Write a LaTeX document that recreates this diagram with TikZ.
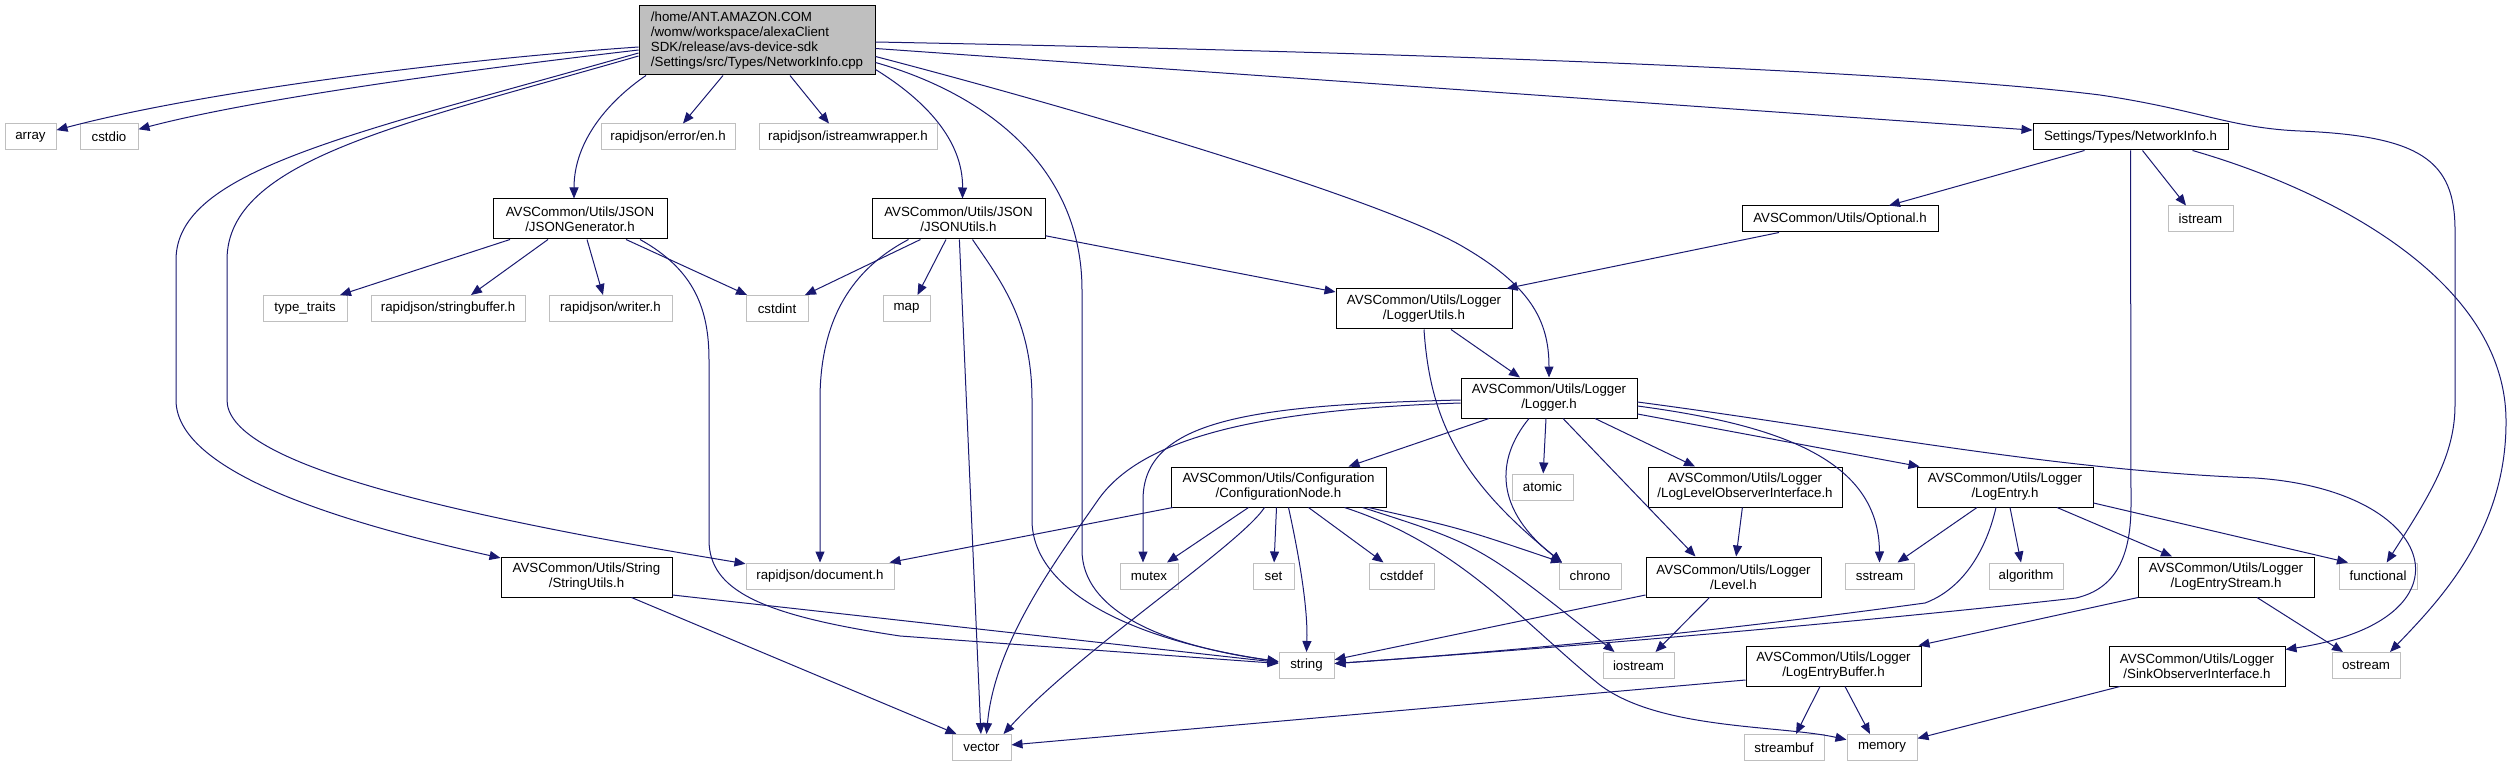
\documentclass[tikz,border=0pt]{standalone}
\usepackage{fontspec}
\setmainfont{Liberation Sans}
\usetikzlibrary{arrows.meta}
\definecolor{edgeblue}{HTML}{191970}
\definecolor{grey75}{HTML}{BFBFBF}
\tikzset{
 box/.style={rectangle, inner sep=0pt, align=center, font=\fontsize{13.3}{15}\selectfont, line width=1pt, fill=white},
 hdr/.style={box, draw=black, minimum height=40pt},
 hdrone/.style={box, draw=black, minimum height=26pt},
 ext/.style={box, draw=grey75, minimum height=26pt},
 mainbox/.style={box, draw=black, fill=grey75, align=left, minimum height=69pt},
 dep/.style={draw=edgeblue, line width=1pt, -{Triangle[length=11pt,width=9pt]}}
}
\begin{document}
\begin{tikzpicture}[x=1pt,y=-1pt]
\path[use as bounding box] (0,0) rectangle (2512,767);
% rank 0
\node[mainbox, minimum width=236pt] (main) at (757,40.5) {/home/ANT.AMAZON.COM\\/womw/workspace/alexaClient\\SDK/release/avs-device-sdk\\/Settings/src/Types/NetworkInfo.cpp};
% rank 1
\node[ext, minimum width=51pt] (array) at (30.5,137) {array};
\node[ext, minimum width=58pt] (cstdio) at (109,137) {cstdio};
\node[ext, minimum width=134pt] (enh) at (668,137) {rapidjson/error/en.h};
\node[ext, minimum width=178pt] (isw) at (848,137) {rapidjson/istreamwrapper.h};
\node[hdrone, minimum width=195pt] (nih) at (2130.5,137) {Settings/Types/NetworkInfo.h};
% rank 2
\node[hdr, minimum width=174pt] (jgen) at (580,219) {AVSCommon/Utils/JSON\\/JSONGenerator.h};
\node[hdr, minimum width=173pt] (jutil) at (958.5,219) {AVSCommon/Utils/JSON\\/JSONUtils.h};
\node[hdrone, minimum width=196pt] (opt) at (1840,219) {AVSCommon/Utils/Optional.h};
\node[ext, minimum width=65pt] (istream) at (2200.5,219) {istream};
% rank 3
\node[ext, minimum width=84pt] (tt) at (305,308.5) {type\_traits};
\node[ext, minimum width=154pt] (sbuf) at (448,308.5) {rapidjson/stringbuffer.h};
\node[ext, minimum width=123pt] (writer) at (610.5,308.5) {rapidjson/writer.h};
\node[ext, minimum width=62pt] (cstdint) at (777,308.5) {cstdint};
\node[ext, minimum width=47pt] (map) at (906.5,308.5) {map};
\node[hdr, minimum width=176pt] (lutil) at (1424,309) {AVSCommon/Utils/Logger\\/LoggerUtils.h};
% rank 4
\node[hdr, minimum width=176pt] (logger) at (1549,398) {AVSCommon/Utils/Logger\\/Logger.h};
% rank 5
\node[hdr, minimum width=215pt] (cfg) at (1278.5,487) {AVSCommon/Utils/Configuration\\/ConfigurationNode.h};
\node[ext, minimum width=61pt] (atomic) at (1542.5,487) {atomic};
\node[hdr, minimum width=194pt] (llo) at (1745,487) {AVSCommon/Utils/Logger\\/LogLevelObserverInterface.h};
\node[hdr, minimum width=176pt] (lentry) at (2005,487) {AVSCommon/Utils/Logger\\/LogEntry.h};
% rank 6
\node[hdr, minimum width=171pt] (sutil) at (586.5,577) {AVSCommon/Utils/String\\/StringUtils.h};
\node[ext, minimum width=148pt] (doc) at (820,576) {rapidjson/document.h};
\node[ext, minimum width=58pt] (mutex) at (1149,576) {mutex};
\node[ext, minimum width=41pt] (set) at (1273.5,576) {set};
\node[ext, minimum width=65pt] (cstddef) at (1401.5,576) {cstddef};
\node[ext, minimum width=62pt] (chrono) at (1590,576) {chrono};
\node[hdr, minimum width=175pt] (level) at (1733.5,577) {AVSCommon/Utils/Logger\\/Level.h};
\node[ext, minimum width=69pt] (sstream) at (1879.5,576) {sstream};
\node[ext, minimum width=74pt] (algo) at (2026,576) {algorithm};
\node[hdr, minimum width=176pt] (lestream) at (2226,577) {AVSCommon/Utils/Logger\\/LogEntryStream.h};
\node[ext, minimum width=78pt] (functional) at (2378,576) {functional};
% rank 7
\node[ext, minimum width=55pt] (string) at (1306.5,665.5) {string};
\node[ext, minimum width=71pt] (iostream) at (1638.5,665.5) {iostream};
\node[hdr, minimum width=175pt] (lebuf) at (1833.5,666) {AVSCommon/Utils/Logger\\/LogEntryBuffer.h};
\node[hdr, minimum width=176pt] (sink) at (2197,666) {AVSCommon/Utils/Logger\\/SinkObserverInterface.h};
\node[ext, minimum width=68pt] (ostream) at (2366,665.5) {ostream};
% rank 8
\node[ext, minimum width=59pt] (vector) at (981.5,747.5) {vector};
\node[ext, minimum width=80pt] (streambuf) at (1784,747.5) {streambuf};
\node[ext, minimum width=70pt] (memory) at (1882,747.5) {memory};

% ---- edges from main
\draw[dep] ([yshift=-6.5pt]main.west) .. controls (450,60) and (200,92) .. (array);
\draw[dep] ([yshift=-9.5pt]main.west) .. controls (450,72) and (250,100) .. (cstdio);
\draw[dep] ([yshift=-12.5pt]main.west) .. controls (350,135) and (176,170) .. (176,260) -- (176,400) .. controls (176,470) and (330,520) .. (sutil);
\draw[dep] ([yshift=-15.5pt]main.west) .. controls (400,125) and (227,160) .. (227,260) -- (227,400) .. controls (227,460) and (420,510) .. (doc);
\draw[dep] ([xshift=-111pt]main.south) .. controls (610,100) and (574,140) .. ([xshift=-6pt]jgen.north);
\draw[dep] ([xshift=-34pt]main.south) -- ([xshift=15pt]enh.north);
\draw[dep] ([xshift=33pt]main.south) -- ([xshift=-19pt]isw.north);
\draw[dep] ([yshift=-29pt]main.east) .. controls (925,100) and (963,140) .. ([xshift=4pt]jutil.north);
\draw[dep] ([yshift=-22pt]main.east) .. controls (990,95) and (1082,170) .. (1082,290) -- (1082,550) .. controls (1082,610) and (1160,645) .. (string);
\draw[dep] ([yshift=-16pt]main.east) .. controls (1100,115) and (1380,200) .. (1460,245) .. controls (1530,285) and (1549,320) .. (logger.north);
\draw[dep] ([yshift=-8pt]main.east) -- (nih);
\draw[dep] ([yshift=-1.5pt]main.east) .. controls (1400,52) and (1900,70) .. (2100,95) .. controls (2200,110) and (2230,128) .. (2300,131) .. controls (2420,136) and (2455,160) .. (2455,230) -- (2455,405) .. controls (2455,455) and (2430,495) .. (functional);
% ---- NetworkInfo.h
\draw[dep] ([xshift=-46pt]nih.south) -- ([xshift=49pt]opt.north);
\draw[dep] ([xshift=12pt]nih.south) -- ([xshift=-14.5pt]istream.north);
\draw[dep] (nih) -- (2131,505) .. controls (2131,565) and (2110,590) .. (2076,598) .. controls (1900,618) and (1600,645) .. (string);
\draw[dep] ([xshift=62pt]nih.south) .. controls (2330,190) and (2505,280) .. (2506,420) .. controls (2507,530) and (2440,600) .. ([xshift=24pt]ostream.north);
% ---- Optional.h
\draw[dep] ([xshift=-61pt]opt.south) -- ([xshift=-6pt]lutil.north east);
% ---- JSONGenerator.h
\draw[dep] ([xshift=-70pt]jgen.south) -- ([xshift=35pt]tt.north);
\draw[dep] ([xshift=-32pt]jgen.south) -- ([xshift=23pt]sbuf.north);
\draw[dep] ([xshift=7pt]jgen.south) -- ([xshift=-7.5pt]writer.north);
\draw[dep] ([xshift=46pt]jgen.south) -- ([xshift=-30pt]cstdint.north);
\draw[dep] ([xshift=60pt]jgen.south) .. controls (695,270) and (709,310) .. (709,360) -- (709,540) .. controls (709,590) and (760,615) .. (900,636) -- (string);
% ---- JSONUtils.h
\draw[dep] ([xshift=-38pt]jutil.south) -- ([xshift=28pt]cstdint.north);
\draw[dep] ([xshift=-12.5pt]jutil.south) -- ([xshift=11pt]map.north);
\draw[dep] (jutil) -- (vector);
\draw[dep] ([xshift=14pt]jutil.south) .. controls (1000,280) and (1032,320) .. (1032,400) -- (1032,520) .. controls (1032,590) and (1130,640) .. (string);
\draw[dep] ([xshift=-50pt]jutil.south) .. controls (860,265) and (820,310) .. (820,400) -- (doc.north);
\draw[dep] (jutil) -- (lutil);
% ---- LoggerUtils.h
\draw[dep] ([xshift=27pt]lutil.south) -- ([xshift=-29pt]logger.north);
\draw[dep] (lutil.south) .. controls (1430,420) and (1460,480) .. ([xshift=-28pt]chrono.north);
% ---- Logger.h
\draw[dep] ([xshift=-60pt]logger.south) -- ([xshift=70pt]cfg.north);
\draw[dep] ([xshift=-3pt]logger.south) -- (atomic);
\draw[dep] ([xshift=14pt]logger.south) -- ([xshift=-38pt]level.north);
\draw[dep] ([xshift=46pt]logger.south) -- ([xshift=-50pt]llo.north);
\draw[dep] ([xshift=-20pt]logger.south) .. controls (1495,460) and (1495,510) .. ([xshift=-28pt]chrono.north);
\draw[dep] ([yshift=-2pt]logger.west) .. controls (1250,405) and (1143,420) .. (1143,500) -- ([xshift=-6pt]mutex.north);
\draw[dep] ([yshift=-5pt]logger.west) .. controls (1250,410) and (1140,440) .. (1098,500) .. controls (1060,555) and (995,640) .. ([xshift=5pt]vector.north);
\draw[dep] ([yshift=-16pt]logger.east) -- ([xshift=3pt]lentry.north west);
\draw[dep] ([yshift=-8pt]logger.east) .. controls (1780,425) and (1879,460) .. (sstream.north);
\draw[dep] ([yshift=-4pt]logger.east) .. controls (1850,430) and (2050,470) .. (2255,478) .. controls (2440,490) and (2480,620) .. ([yshift=-4pt]sink.north east);
% ---- ConfigurationNode.h
\draw[dep] (cfg) -- (doc);
\draw[dep] ([xshift=-30pt]cfg.south) -- ([xshift=18pt]mutex.north);
\draw[dep] ([xshift=-14pt]cfg.south) .. controls (1240,545) and (1080,650) .. ([xshift=22pt]vector.north);
\draw[dep] ([xshift=-2pt]cfg.south) -- (set);
\draw[dep] ([xshift=10pt]cfg.south) .. controls (1300,560) and (1308,610) .. (string.north);
\draw[dep] ([xshift=30pt]cfg.south) -- ([xshift=-18pt]cstddef.north);
\draw[dep] ([xshift=66pt]cfg.south) .. controls (1460,545) and (1520,620) .. (1600,685) .. controls (1660,730) and (1780,725) .. (memory);
\draw[dep] ([xshift=84pt]cfg.south) .. controls (1480,545) .. ([xshift=-24pt]iostream.north);
\draw[dep] ([xshift=90pt]cfg.south) .. controls (1460,528) .. ([xshift=-28pt]chrono.north);
% ---- LogLevelObserverInterface.h / Level.h
\draw[dep] (llo) -- (level);
\draw[dep] ([yshift=-18pt]level.west) -- (string);
\draw[dep] ([xshift=-24pt]level.south) -- ([xshift=17pt]iostream.north);
% ---- LogEntry.h
\draw[dep] ([xshift=-28pt]lentry.south) -- ([xshift=18pt]sstream.north);
\draw[dep] ([xshift=-9pt]lentry.south) .. controls (1985,555) and (1960,590) .. (1925,603) .. controls (1800,620) and (1600,645) .. (string);
\draw[dep] ([xshift=5pt]lentry.south) -- ([xshift=-5pt]algo.north);
\draw[dep] ([xshift=52pt]lentry.south) -- ([xshift=-54pt]lestream.north);
\draw[dep] ([yshift=-16pt]lentry.east) -- ([xshift=-30pt]functional.north);
% ---- LogEntryStream.h
\draw[dep] ([xshift=-88pt]lestream.south) -- ([xshift=-3pt]lebuf.north east);
\draw[dep] ([xshift=31pt]lestream.south) -- ([xshift=-23pt]ostream.north);
% ---- LogEntryBuffer.h
\draw[dep] ([yshift=-14pt]lebuf.west) -- (vector);
\draw[dep] ([xshift=-13.5pt]lebuf.south) -- ([xshift=12pt]streambuf.north);
\draw[dep] ([xshift=11.5pt]lebuf.south) -- ([xshift=-12pt]memory.north);
% ---- SinkObserverInterface.h
\draw[dep] ([xshift=-77pt]sink.south) -- (memory);
% ---- StringUtils.h
\draw[dep] ([yshift=-18pt]sutil.east) -- (string);
\draw[dep] ([xshift=45pt]sutil.south) -- ([xshift=-25pt]vector.north);
\end{tikzpicture}
\end{document}
